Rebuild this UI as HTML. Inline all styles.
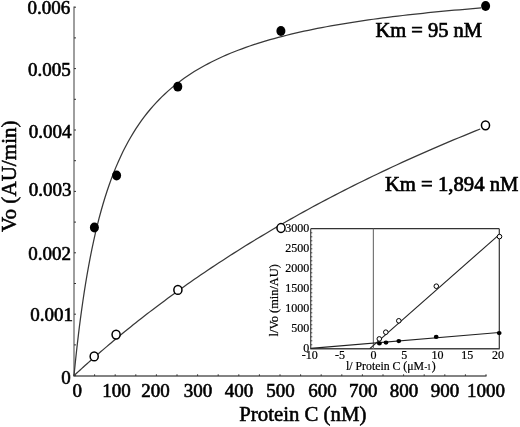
<!DOCTYPE html>
<html><head><meta charset="utf-8"><style>
html,body{margin:0;padding:0;background:#fff;}
body{width:520px;height:427px;overflow:hidden;font-family:"Liberation Serif", serif;}
svg{display:block;filter:grayscale(1);}
</style></head><body>
<svg width="520" height="427" viewBox="0 0 520 427">
<rect width="520" height="427" fill="#fff"/>
<g stroke-linecap="butt">
<line x1="74" y1="6.5" x2="74" y2="376.3" stroke="#6a6a6a" stroke-width="1.3"/>
<line x1="73.5" y1="376" x2="486.5" y2="376" stroke="#5a5a5a" stroke-width="1.6"/>
<line x1="74" y1="375.60" x2="76" y2="375.60" stroke="#333" stroke-width="1"/>
<line x1="74" y1="344.90" x2="76" y2="344.90" stroke="#333" stroke-width="1"/>
<line x1="74" y1="314.20" x2="76" y2="314.20" stroke="#333" stroke-width="1"/>
<line x1="74" y1="283.50" x2="76" y2="283.50" stroke="#333" stroke-width="1"/>
<line x1="74" y1="252.80" x2="76" y2="252.80" stroke="#333" stroke-width="1"/>
<line x1="74" y1="222.10" x2="76" y2="222.10" stroke="#333" stroke-width="1"/>
<line x1="74" y1="191.40" x2="76" y2="191.40" stroke="#333" stroke-width="1"/>
<line x1="74" y1="160.70" x2="76" y2="160.70" stroke="#333" stroke-width="1"/>
<line x1="74" y1="130.00" x2="76" y2="130.00" stroke="#333" stroke-width="1"/>
<line x1="74" y1="99.30" x2="76" y2="99.30" stroke="#333" stroke-width="1"/>
<line x1="74" y1="68.60" x2="76" y2="68.60" stroke="#333" stroke-width="1"/>
<line x1="74" y1="37.90" x2="76" y2="37.90" stroke="#333" stroke-width="1"/>
<line x1="74" y1="7.20" x2="76" y2="7.20" stroke="#333" stroke-width="1"/>
<line x1="74.00" y1="376" x2="74.00" y2="374.3" stroke="#333" stroke-width="1"/>
<line x1="94.60" y1="376" x2="94.60" y2="374.3" stroke="#333" stroke-width="1"/>
<line x1="115.20" y1="376" x2="115.20" y2="374.3" stroke="#333" stroke-width="1"/>
<line x1="135.80" y1="376" x2="135.80" y2="374.3" stroke="#333" stroke-width="1"/>
<line x1="156.40" y1="376" x2="156.40" y2="374.3" stroke="#333" stroke-width="1"/>
<line x1="177.00" y1="376" x2="177.00" y2="374.3" stroke="#333" stroke-width="1"/>
<line x1="197.60" y1="376" x2="197.60" y2="374.3" stroke="#333" stroke-width="1"/>
<line x1="218.20" y1="376" x2="218.20" y2="374.3" stroke="#333" stroke-width="1"/>
<line x1="238.80" y1="376" x2="238.80" y2="374.3" stroke="#333" stroke-width="1"/>
<line x1="259.40" y1="376" x2="259.40" y2="374.3" stroke="#333" stroke-width="1"/>
<line x1="280.00" y1="376" x2="280.00" y2="374.3" stroke="#333" stroke-width="1"/>
<line x1="300.60" y1="376" x2="300.60" y2="374.3" stroke="#333" stroke-width="1"/>
<line x1="321.20" y1="376" x2="321.20" y2="374.3" stroke="#333" stroke-width="1"/>
<line x1="341.80" y1="376" x2="341.80" y2="374.3" stroke="#333" stroke-width="1"/>
<line x1="362.40" y1="376" x2="362.40" y2="374.3" stroke="#333" stroke-width="1"/>
<line x1="383.00" y1="376" x2="383.00" y2="374.3" stroke="#333" stroke-width="1"/>
<line x1="403.60" y1="376" x2="403.60" y2="374.3" stroke="#333" stroke-width="1"/>
<line x1="424.20" y1="376" x2="424.20" y2="374.3" stroke="#333" stroke-width="1"/>
<line x1="444.80" y1="376" x2="444.80" y2="374.3" stroke="#333" stroke-width="1"/>
<line x1="465.40" y1="376" x2="465.40" y2="374.3" stroke="#333" stroke-width="1"/>
<line x1="486.00" y1="376" x2="486.00" y2="374.3" stroke="#333" stroke-width="1"/>
</g>
<g font-family="Liberation Serif" font-size="19" fill="#000" stroke="#000" stroke-width="0.6" text-anchor="end">
<text x="70.80" y="384.20">0</text>
<text x="73.10" y="321.40">0.001</text>
<text x="71.10" y="260.40">0.002</text>
<text x="71.60" y="196.30">0.003</text>
<text x="71.50" y="138.10">0.004</text>
<text x="70.80" y="75.50">0.005</text>
<text x="70.30" y="14.30">0.006</text>
</g>
<g font-family="Liberation Serif" font-size="19" fill="#000" stroke="#000" stroke-width="0.6" text-anchor="middle">
<text x="77.3" y="396.5">0</text>
<text x="116.6" y="396.5">100</text>
<text x="155.6" y="396.5">200</text>
<text x="198" y="396.5">300</text>
<text x="239" y="396.5">400</text>
<text x="280.5" y="396.5">500</text>
<text x="322.4" y="396.5">600</text>
<text x="363.3" y="396.5">700</text>
<text x="403.9" y="396.5">800</text>
<text x="445" y="396.5">900</text>
<text x="486" y="396.5">1000</text>
</g>
<text x="302.8" y="421.2" font-family="Liberation Serif" font-size="20.8" stroke="#000" stroke-width="0.55" text-anchor="middle">Protein C (nM)</text>
<text transform="translate(15.9,176.2) rotate(-90)" font-family="Liberation Serif" font-size="21.1" stroke="#000" stroke-width="0.55" text-anchor="middle">Vo (AU/min)</text>
<text x="375.4" y="37.4" font-family="Liberation Serif" font-size="20.5" stroke="#000" stroke-width="0.7">Km = 95 nM</text>
<text x="384.9" y="190.8" font-family="Liberation Serif" font-size="20.7" stroke="#000" stroke-width="0.7">Km = 1,894 nM</text>
<path d="M74.00,375.60 L74.19,373.63 L74.58,369.70 L75.11,364.46 L75.76,358.23 L76.52,351.23 L77.37,343.63 L78.32,335.57 L79.34,327.19 L80.45,318.57 L81.64,309.80 L82.90,300.97 L84.22,292.13 L85.62,283.34 L87.08,274.64 L88.61,266.06 L90.20,257.63 L91.85,249.38 L93.56,241.32 L95.33,233.46 L97.15,225.82 L99.03,218.41 L100.97,211.22 L102.96,204.25 L105.00,197.51 L107.09,191.00 L109.23,184.71 L111.42,178.63 L113.67,172.77 L115.96,167.12 L118.30,161.67 L120.68,156.41 L123.11,151.35 L125.59,146.46 L128.12,141.76 L130.69,137.22 L133.30,132.85 L135.96,128.64 L138.66,124.58 L141.40,120.67 L144.19,116.90 L147.02,113.26 L149.89,109.75 L152.80,106.36 L155.75,103.10 L158.74,99.95 L161.78,96.90 L164.85,93.97 L167.96,91.13 L171.11,88.39 L174.30,85.74 L177.53,83.18 L180.80,80.71 L184.10,78.31 L187.45,76.00 L190.83,73.76 L194.24,71.59 L197.70,69.49 L201.19,67.46 L204.72,65.49 L208.28,63.58 L211.88,61.73 L215.51,59.94 L219.18,58.20 L222.89,56.52 L226.62,54.88 L230.40,53.29 L234.21,51.75 L238.05,50.25 L241.93,48.80 L245.84,47.39 L249.78,46.02 L253.76,44.68 L257.77,43.39 L261.82,42.13 L265.89,40.90 L270.00,39.71 L274.15,38.54 L278.32,37.41 L282.53,36.31 L286.77,35.24 L291.04,34.20 L295.34,33.18 L299.68,32.19 L304.04,31.22 L308.44,30.28 L312.87,29.36 L317.33,28.47 L321.82,27.59 L326.34,26.74 L330.89,25.91 L335.48,25.10 L340.09,24.31 L344.73,23.53 L349.40,22.77 L354.11,22.04 L358.84,21.31 L363.60,20.61 L368.39,19.92 L373.21,19.25 L378.06,18.59 L382.94,17.94 L387.85,17.31 L392.79,16.70 L397.76,16.09 L402.75,15.50 L407.77,14.93 L412.83,14.36 L417.91,13.81 L423.02,13.27 L428.15,12.73 L433.32,12.21 L438.51,11.71 L443.73,11.21 L448.98,10.72 L454.26,10.24 L459.56,9.77 L464.90,9.31 L470.26,8.86 L475.64,8.41 L481.06,7.98" fill="none" stroke="#383838" stroke-width="1.25"/>
<path d="M74.00,375.60 L74.19,375.42 L74.58,375.06 L75.11,374.58 L75.76,373.98 L76.51,373.29 L77.37,372.51 L78.31,371.65 L79.33,370.71 L80.44,369.70 L81.62,368.63 L82.88,367.50 L84.20,366.30 L85.60,365.05 L87.06,363.75 L88.58,362.39 L90.17,360.98 L91.82,359.52 L93.52,358.02 L95.29,356.48 L97.11,354.89 L98.98,353.26 L100.91,351.59 L102.90,349.88 L104.93,348.14 L107.02,346.36 L109.16,344.55 L111.35,342.70 L113.59,340.83 L115.87,338.92 L118.21,336.99 L120.59,335.02 L123.01,333.03 L125.49,331.02 L128.01,328.98 L130.57,326.92 L133.18,324.83 L135.83,322.72 L138.53,320.59 L141.26,318.44 L144.05,316.28 L146.87,314.09 L149.73,311.88 L152.64,309.66 L155.58,307.43 L158.57,305.18 L161.60,302.91 L164.67,300.63 L167.77,298.34 L170.92,296.03 L174.10,293.71 L177.32,291.39 L180.58,289.05 L183.88,286.70 L187.22,284.34 L190.59,281.98 L194.00,279.60 L197.45,277.22 L200.93,274.84 L204.45,272.44 L208.01,270.04 L211.60,267.64 L215.22,265.23 L218.89,262.81 L222.58,260.40 L226.32,257.98 L230.08,255.55 L233.88,253.13 L237.72,250.70 L241.59,248.27 L245.49,245.84 L249.43,243.40 L253.40,240.97 L257.40,238.54 L261.44,236.11 L265.51,233.68 L269.61,231.25 L273.74,228.82 L277.91,226.39 L282.11,223.96 L286.34,221.54 L290.60,219.12 L294.90,216.70 L299.22,214.29 L303.58,211.87 L307.97,209.47 L312.39,207.06 L316.84,204.66 L321.32,202.27 L325.83,199.88 L330.37,197.49 L334.95,195.11 L339.55,192.74 L344.18,190.37 L348.85,188.00 L353.54,185.64 L358.26,183.29 L363.01,180.94 L367.80,178.60 L372.61,176.27 L377.45,173.94 L382.32,171.62 L387.22,169.31 L392.14,167.01 L397.10,164.71 L402.09,162.42 L407.10,160.13 L412.14,157.86 L417.21,155.59 L422.31,153.33 L427.44,151.08 L432.59,148.84 L437.78,146.60 L442.99,144.37 L448.22,142.15 L453.49,139.94 L458.78,137.74 L464.10,135.55 L469.45,133.37 L474.83,131.19 L480.23,129.02" fill="none" stroke="#383838" stroke-width="1.25"/>
<ellipse cx="94.4" cy="227.5" rx="4.5" ry="4.9" fill="#000"/>
<ellipse cx="116.6" cy="175.5" rx="4.5" ry="4.9" fill="#000"/>
<ellipse cx="177.8" cy="86.7" rx="4.5" ry="4.9" fill="#000"/>
<ellipse cx="280.9" cy="31" rx="4.5" ry="4.9" fill="#000"/>
<ellipse cx="485.6" cy="6" rx="4.5" ry="4.9" fill="#000"/>
<ellipse cx="94.2" cy="356.4" rx="4.05" ry="4.4" fill="#fff" stroke="#000" stroke-width="1.5"/>
<ellipse cx="116.1" cy="334.6" rx="4.05" ry="4.4" fill="#fff" stroke="#000" stroke-width="1.5"/>
<ellipse cx="177.9" cy="289.9" rx="4.05" ry="4.4" fill="#fff" stroke="#000" stroke-width="1.5"/>
<ellipse cx="281" cy="228" rx="4.05" ry="4.4" fill="#fff" stroke="#000" stroke-width="1.5"/>
<ellipse cx="485.5" cy="125.3" rx="4.05" ry="4.4" fill="#fff" stroke="#000" stroke-width="1.5"/>
<rect x="310.7" y="228.7" width="188.60000000000002" height="120.10000000000002" fill="#fff" stroke="none"/>
<line x1="310.7" y1="228.7" x2="499.3" y2="228.7" stroke="#333" stroke-width="1.2"/>
<line x1="499.3" y1="228.7" x2="499.3" y2="348.8" stroke="#333" stroke-width="1.2"/>
<line x1="310.7" y1="228.7" x2="310.7" y2="348.8" stroke="#444" stroke-width="1.2"/>
<line x1="310.2" y1="348.8" x2="499.8" y2="348.8" stroke="#444" stroke-width="1.6"/>
<line x1="373.4" y1="228.7" x2="373.4" y2="348.8" stroke="#777" stroke-width="1.2"/>
<line x1="310.7" y1="344.80" x2="312.30" y2="344.80" stroke="#333" stroke-width="0.9"/>
<line x1="310.7" y1="340.80" x2="312.30" y2="340.80" stroke="#333" stroke-width="0.9"/>
<line x1="310.7" y1="336.80" x2="312.30" y2="336.80" stroke="#333" stroke-width="0.9"/>
<line x1="310.7" y1="332.80" x2="312.30" y2="332.80" stroke="#333" stroke-width="0.9"/>
<line x1="310.7" y1="328.80" x2="312.30" y2="328.80" stroke="#333" stroke-width="0.9"/>
<line x1="310.7" y1="324.80" x2="312.30" y2="324.80" stroke="#333" stroke-width="0.9"/>
<line x1="310.7" y1="320.80" x2="312.30" y2="320.80" stroke="#333" stroke-width="0.9"/>
<line x1="310.7" y1="316.80" x2="312.30" y2="316.80" stroke="#333" stroke-width="0.9"/>
<line x1="310.7" y1="312.80" x2="312.30" y2="312.80" stroke="#333" stroke-width="0.9"/>
<line x1="310.7" y1="308.80" x2="312.30" y2="308.80" stroke="#333" stroke-width="0.9"/>
<line x1="310.7" y1="304.80" x2="312.30" y2="304.80" stroke="#333" stroke-width="0.9"/>
<line x1="310.7" y1="300.80" x2="312.30" y2="300.80" stroke="#333" stroke-width="0.9"/>
<line x1="310.7" y1="296.80" x2="312.30" y2="296.80" stroke="#333" stroke-width="0.9"/>
<line x1="310.7" y1="292.80" x2="312.30" y2="292.80" stroke="#333" stroke-width="0.9"/>
<line x1="310.7" y1="288.80" x2="312.30" y2="288.80" stroke="#333" stroke-width="0.9"/>
<line x1="310.7" y1="284.80" x2="312.30" y2="284.80" stroke="#333" stroke-width="0.9"/>
<line x1="310.7" y1="280.80" x2="312.30" y2="280.80" stroke="#333" stroke-width="0.9"/>
<line x1="310.7" y1="276.80" x2="312.30" y2="276.80" stroke="#333" stroke-width="0.9"/>
<line x1="310.7" y1="272.80" x2="312.30" y2="272.80" stroke="#333" stroke-width="0.9"/>
<line x1="310.7" y1="268.80" x2="312.30" y2="268.80" stroke="#333" stroke-width="0.9"/>
<line x1="310.7" y1="264.80" x2="312.30" y2="264.80" stroke="#333" stroke-width="0.9"/>
<line x1="310.7" y1="260.80" x2="312.30" y2="260.80" stroke="#333" stroke-width="0.9"/>
<line x1="310.7" y1="256.80" x2="312.30" y2="256.80" stroke="#333" stroke-width="0.9"/>
<line x1="310.7" y1="252.80" x2="312.30" y2="252.80" stroke="#333" stroke-width="0.9"/>
<line x1="310.7" y1="248.80" x2="312.30" y2="248.80" stroke="#333" stroke-width="0.9"/>
<line x1="310.7" y1="244.80" x2="312.30" y2="244.80" stroke="#333" stroke-width="0.9"/>
<line x1="310.7" y1="240.80" x2="312.30" y2="240.80" stroke="#333" stroke-width="0.9"/>
<line x1="310.7" y1="236.80" x2="312.30" y2="236.80" stroke="#333" stroke-width="0.9"/>
<line x1="310.7" y1="232.80" x2="312.30" y2="232.80" stroke="#333" stroke-width="0.9"/>
<g font-family="Liberation Serif" font-size="12" fill="#000" stroke="#000" stroke-width="0.2" text-anchor="end">
<text x="309.2" y="352.30">0</text>
<text x="309.2" y="332.30">500</text>
<text x="309.2" y="312.30">1000</text>
<text x="309.2" y="292.30">1500</text>
<text x="309.2" y="272.30">2000</text>
<text x="309.2" y="252.30">2500</text>
<text x="309.2" y="232.30">3000</text>
</g>
<g font-family="Liberation Serif" font-size="12" fill="#000" stroke="#000" stroke-width="0.2" text-anchor="middle">
<text x="309.80" y="358.8">-10</text>
<text x="340.05" y="358.8">-5</text>
<text x="373.40" y="358.8">0</text>
<text x="404.35" y="358.8">5</text>
<text x="437.60" y="358.8">10</text>
<text x="467.25" y="358.8">15</text>
<text x="498.10" y="358.8">20</text>
</g>
<text x="346.0" y="370.2" font-family="Liberation Serif" font-size="11.8" stroke="#000" stroke-width="0.2">l/ Protein C (μM<tspan font-size="8" dx="0.3">-1</tspan><tspan dx="0.6">)</tspan></text>
<text transform="translate(277.6,300.3) rotate(-90)" font-family="Liberation Serif" font-size="12.4" stroke="#000" stroke-width="0.2" text-anchor="middle">l/Vo (min/AU)</text>
<line x1="310.7" y1="348.4" x2="499.2" y2="332.5" stroke="#222" stroke-width="1.1"/>
<line x1="369.8" y1="348.6" x2="499.2" y2="234.6" stroke="#222" stroke-width="1.1"/>
<circle cx="379.3" cy="338.9" r="2.3" fill="#fff" stroke="#000" stroke-width="1"/>
<circle cx="385.8" cy="332.2" r="2.3" fill="#fff" stroke="#000" stroke-width="1"/>
<circle cx="398.8" cy="320.8" r="2.3" fill="#fff" stroke="#000" stroke-width="1"/>
<circle cx="436.3" cy="286.2" r="2.3" fill="#fff" stroke="#000" stroke-width="1"/>
<circle cx="499.5" cy="236.6" r="2.3" fill="#fff" stroke="#000" stroke-width="1"/>
<ellipse cx="379.4" cy="343.4" rx="2.4" ry="2.1" fill="#000"/>
<ellipse cx="386" cy="342.6" rx="2.4" ry="2.1" fill="#000"/>
<ellipse cx="398.8" cy="341.1" rx="2.4" ry="2.1" fill="#000"/>
<ellipse cx="436.2" cy="336.9" rx="2.4" ry="2.1" fill="#000"/>
<ellipse cx="499.2" cy="333.1" rx="2.4" ry="2.1" fill="#000"/>
</svg>
</body></html>
